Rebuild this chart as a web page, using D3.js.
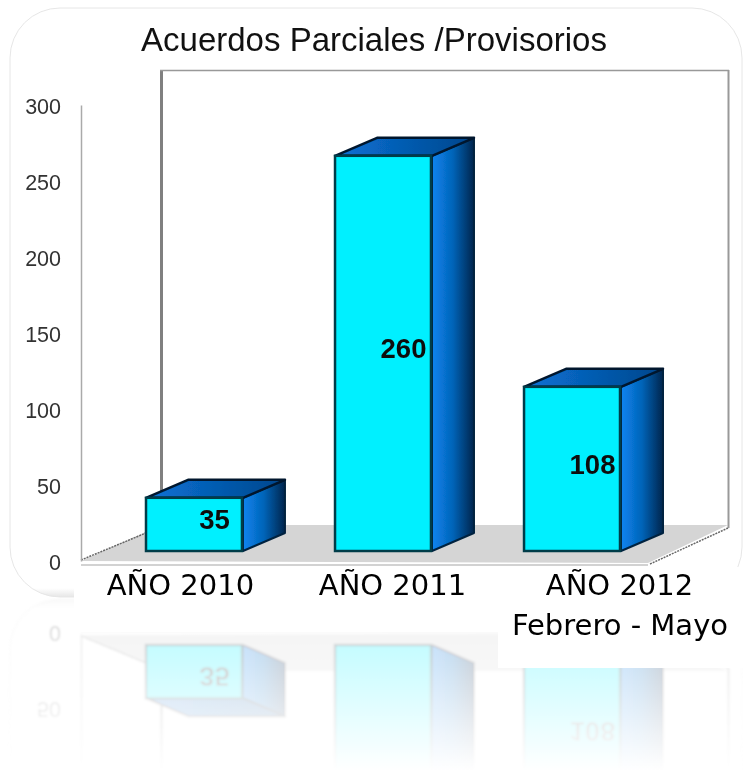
<!DOCTYPE html>
<html>
<head>
<meta charset="utf-8">
<script src="https://cdn.jsdelivr.net/npm/d3@7"></script>
<style>
html, body { margin: 0; padding: 0; background: #fff; }
svg { display: block; }
</style>
</head>
<body>
<script>
var chartTitle = 'Acuerdos Parciales /Provisorios';
var categories = ['AÑO 2010', 'AÑO 2011', 'AÑO 2012'];
var values = [35, 260, 108];
var yTicks = [0, 50, 100, 150, 200, 250, 300];
var subLabel = 'Febrero - Mayo';

var width = 743, height = 771;
var mirrorY = 598;          // the reflection flips around this line
var depth = { x: 42, y: -18 };
var floorLift = 10;         // bars stand this far behind the front axis

var y = d3.scaleLinear().domain([0, 300]).range([561, 105]);
var x = d3.scaleBand().domain(categories).range([146, 621]).paddingInner(0.487).paddingOuter(0);

var svg = d3.select('body').append('svg').attr('width', width).attr('height', height);
var defs = svg.append('defs');

function linear(id, horizontal, stops) {
    var g = defs.append('linearGradient').attr('id', id)
        .attr('x1', 0).attr('y1', 0)
        .attr('x2', horizontal ? 1 : 0).attr('y2', horizontal ? 0 : 1);
    stops.forEach(function(s) {
        g.append('stop').attr('offset', s[0]).attr('stop-color', s[1]);
    });
    return g;
}
linear('sideFill', true, [[0, '#0a84f0'], [0.5, '#0464b8'], [1, '#00254d']]);
linear('topFill', true, [[0, '#0a72d6'], [1, '#00468c']]);
linear('cardFill', false, [[0, '#fff'], [0.985, '#fff'], [1, '#e6e6e6']]);

// fade for the reflection, in page coordinates
var fade = defs.append('linearGradient').attr('id', 'fade')
    .attr('gradientUnits', 'userSpaceOnUse')
    .attr('x1', 0).attr('y1', mirrorY).attr('x2', 0).attr('y2', height);
fade.append('stop').attr('offset', 0).attr('stop-color', '#fff').attr('stop-opacity', 0.28);
fade.append('stop').attr('offset', 0.3).attr('stop-color', '#fff').attr('stop-opacity', 0.22);
fade.append('stop').attr('offset', 1).attr('stop-color', '#fff').attr('stop-opacity', 0);
defs.append('mask').attr('id', 'fadeMask').attr('maskUnits', 'userSpaceOnUse')
    .attr('x', 0).attr('y', 0).attr('width', width).attr('height', height)
    .append('rect').attr('y', mirrorY).attr('width', width).attr('height', height - mirrorY)
    .attr('fill', 'url(#fade)');

defs.append('filter').attr('id', 'soft')
    .append('feGaussianBlur').attr('stdDeviation', 0.45);
defs.append('filter').attr('id', 'softer')
    .attr('filterUnits', 'userSpaceOnUse')
    .attr('x', 0).attr('y', 0).attr('width', width).attr('height', height)
    .append('feGaussianBlur').attr('stdDeviation', 0.9);

function pts(list) {
    return list.map(function(p) { return p.join(','); }).join(' ');
}

function drawChart(root) {
    // card
    root.append('rect')
        .attr('x', 10).attr('y', 8).attr('width', 732).attr('height', 589).attr('rx', 50)
        .attr('fill', 'url(#cardFill)').attr('stroke', '#e6e6e6').attr('stroke-width', 1);

    var plot = root.append('g').attr('filter', 'url(#soft)');

    // floor
    plot.append('polygon')
        .attr('points', pts([[81, 561], [161, 525], [728, 525], [648, 563]]))
        .attr('fill', '#d5d5d5');
    plot.append('line').attr('x1', 81).attr('x2', 648).attr('y1', 565).attr('y2', 565)
        .attr('stroke', '#d2d2d2').attr('stroke-width', 2);
    plot.append('line').attr('x1', 81).attr('y1', 560).attr('x2', 146).attr('y2', 533)
        .attr('stroke', '#666').attr('stroke-width', 1.5).attr('stroke-dasharray', '2 1');
    plot.append('line').attr('x1', 650).attr('y1', 564).attr('x2', 728).attr('y2', 528)
        .attr('stroke', '#666').attr('stroke-width', 1.5).attr('stroke-dasharray', '2 1');

    // back wall
    plot.append('line').attr('x1', 161.5).attr('x2', 161.5).attr('y1', 70).attr('y2', 525)
        .attr('stroke', '#808080').attr('stroke-width', 3);
    plot.append('line').attr('x1', 160).attr('x2', 729).attr('y1', 70.5).attr('y2', 70.5)
        .attr('stroke', '#999').attr('stroke-width', 1.5);
    plot.append('line').attr('x1', 728.5).attr('x2', 728.5).attr('y1', 70).attr('y2', 528)
        .attr('stroke', '#999').attr('stroke-width', 2);

    // value axis
    var axis = plot.append('g').attr('transform', 'translate(81,0)')
        .call(d3.axisLeft(y).tickValues(yTicks).tickSize(0).tickPadding(20));
    axis.select('.domain').attr('stroke', '#aaa').attr('stroke-width', 1.5);
    axis.selectAll('text')
        .attr('dy', '0.4em')
        .attr('font-family', '"Liberation Sans", Arial, sans-serif')
        .attr('font-size', 21.5).attr('fill', '#333');

    // bars
    var bars = plot.selectAll('.bar').data(values).enter().append('g').attr('class', 'bar');
    function corners(d, i) {
        var left = x(categories[i]), right = left + x.bandwidth();
        return { left: left, right: right, top: y(d) - floorLift, base: y(0) - floorLift };
    }
    bars.append('polygon').attr('fill', 'url(#sideFill)')
        .attr('stroke', '#02233f').attr('stroke-width', 2).attr('stroke-linejoin', 'round')
        .attr('points', function(d, i) {
            var c = corners(d, i);
            return pts([[c.right, c.top], [c.right + depth.x, c.top + depth.y],
                [c.right + depth.x, c.base + depth.y], [c.right, c.base]]);
        });
    bars.append('polygon').attr('fill', 'url(#topFill)')
        .attr('stroke', '#02182e').attr('stroke-width', 2.5).attr('stroke-linejoin', 'round')
        .attr('points', function(d, i) {
            var c = corners(d, i);
            return pts([[c.left, c.top], [c.left + depth.x, c.top + depth.y],
                [c.right + depth.x, c.top + depth.y], [c.right, c.top]]);
        });
    bars.append('rect').attr('fill', '#00f0ff')
        .attr('stroke', '#053c4a').attr('stroke-width', 2.5)
        .attr('x', function(d, i) { return corners(d, i).left; })
        .attr('y', function(d, i) { return corners(d, i).top; })
        .attr('width', x.bandwidth() - 1)
        .attr('height', function(d, i) { var c = corners(d, i); return c.base - c.top; });
    bars.append('text')
        .attr('x', function(d, i) { return corners(d, i).left + x.bandwidth() / 2 + 20; })
        .attr('y', function(d, i) { var c = corners(d, i); return (c.top + c.base) / 2 - 5; })
        .attr('dy', '0.36em')
        .attr('text-anchor', 'middle')
        .attr('font-family', '"Liberation Sans", Arial, sans-serif')
        .attr('font-weight', 'bold').attr('font-size', 27.5).attr('fill', '#111')
        .text(function(d) { return d; });
}

function ctmShift(node) {
    var t = node.parentNode.getAttribute('transform');
    return t && t.indexOf('translate(0,') === 0 ? parseFloat(t.split(',')[1]) : 0;
}

svg.append('rect').attr('width', width).attr('height', height).attr('fill', '#fff');

// reflection first, the patches and category labels go over it
var reflection = svg.append('g').attr('mask', 'url(#fadeMask)')
    .append('g').attr('filter', 'url(#softer)')
    .append('g').attr('transform', 'translate(0,' + (2 * mirrorY) + ') scale(1,-1)');
drawChart(reflection);
// mirrored labels that would land past the bottom of the page are faded out anyway
reflection.selectAll('text').filter(function() {
    return 2 * mirrorY - this.getBBox().y - ctmShift(this) > height - 2;
}).remove();

svg.append('rect').attr('x', 74).attr('y', 566).attr('width', 669).attr('height', 66).attr('fill', '#fff');
svg.append('rect').attr('x', 498).attr('y', 566).attr('width', 245).attr('height', 102).attr('fill', '#fff');

drawChart(svg.append('g'));
svg.append('rect').attr('x', 74).attr('y', 567).attr('width', 669).attr('height', 31).attr('fill', '#fff');

svg.append('text')
    .attr('x', 374).attr('y', 51).attr('text-anchor', 'middle')
    .attr('font-family', '"Liberation Sans", Arial, sans-serif')
    .attr('font-size', 33).attr('fill', '#111')
    .text(chartTitle);

// category labels do not sit under their bars in the original
var labelNudge = [-14, 9, 47];
svg.selectAll('.cat').data(categories).enter().append('text')
    .attr('class', 'cat')
    .attr('x', function(d, i) { return x(d) + x.bandwidth() / 2 + labelNudge[i]; })
    .attr('y', 595)
    .attr('text-anchor', 'middle')
    .attr('font-family', '"DejaVu Sans", sans-serif')
    .attr('font-size', 29).attr('fill', '#000')
    .text(function(d) { return d; });
svg.append('text')
    .attr('x', 620).attr('y', 635).attr('text-anchor', 'middle')
    .attr('font-family', '"DejaVu Sans", sans-serif')
    .attr('font-size', 29).attr('fill', '#000')
    .text(subLabel);
</script>
</body>
</html>
